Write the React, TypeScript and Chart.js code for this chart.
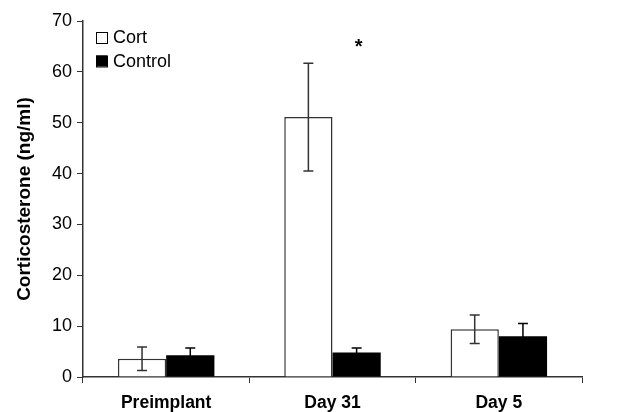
import React, { useEffect, useRef } from "react";
import { Chart, registerables } from "chart.js";

Chart.register(...registerables);

const categories = ["Preimplant", "Day 31", "Day 5"];
const cortValues = [3.6, 51.1, 9.4];
const cortErrors = [2.3, 10.6, 2.8];
const controlValues = [4.3, 4.8, 8.0];
const controlErrors = [1.4, 0.9, 2.5];
const yTicks = [0, 10, 20, 30, 40, 50, 60, 70];
const seriesNames = ["Cort", "Control"];

const FONT = "'Liberation Sans', Arial, Helvetica, sans-serif";

const errorBarPlugin = {
  id: "errorBars",
  afterDatasetsDraw(chart: any) {
    const ctx = chart.ctx;
    const y = chart.scales.y;
    const errs = [cortErrors, controlErrors];
    const colors = ["#333", "#000"];
    ctx.save();
    ctx.lineWidth = 1.5;
    chart.data.datasets.forEach((ds: any, di: number) => {
      const meta = chart.getDatasetMeta(di);
      ctx.strokeStyle = colors[di];
      meta.data.forEach((bar: any, i: number) => {
        const v = ds.data[i];
        const e = errs[di][i];
        const x = bar.x;
        const yt = y.getPixelForValue(v + e);
        const yb = y.getPixelForValue(v - e);
        ctx.beginPath();
        ctx.moveTo(x, yt);
        ctx.lineTo(x, yb);
        ctx.moveTo(x - 5, yt);
        ctx.lineTo(x + 5, yt);
        ctx.moveTo(x - 5, yb);
        ctx.lineTo(x + 5, yb);
        ctx.stroke();
      });
    });
    // significance star above Day 31
    const meta1 = chart.getDatasetMeta(1);
    const sx = meta1.data[1].x + 2;
    const sy = y.getPixelForValue(64.7);
    ctx.fillStyle = "#000";
    ctx.font = `bold 20px ${FONT}`;
    ctx.textAlign = "center";
    ctx.textBaseline = "middle";
    ctx.fillText("*", sx, sy);
    // legend
    const lx = chart.chartArea.left + 13;
    const fills = ["#ffffff", "#000000"];
    ctx.font = `18px ${FONT}`;
    ctx.textAlign = "left";
    seriesNames.forEach((name, i) => {
      const cy = 37.5 + i * 23.5;
      ctx.fillStyle = fills[i];
      ctx.fillRect(lx, cy - 5.5, 11, 11);
      ctx.strokeStyle = "#000";
      ctx.lineWidth = 1;
      ctx.strokeRect(lx + 0.5, cy - 5.5 + 0.5, 11, 11);
      ctx.fillStyle = "#000";
      ctx.fillText(name, lx + 17, cy + 1);
    });
    ctx.restore();
  },
};

export default function App() {
  const ref = useRef<HTMLCanvasElement>(null);
  useEffect(() => {
    document.body.style.margin = "0";
    const chart = new Chart(ref.current!, {
      type: "bar",
      data: {
        labels: categories,
        datasets: [
          {
            label: seriesNames[0],
            data: cortValues,
            backgroundColor: "#ffffff",
            borderColor: "#333",
            borderWidth: 1.5,
            borderSkipped: "bottom",
          },
          {
            label: seriesNames[1],
            data: controlValues,
            backgroundColor: "#000000",
            borderColor: "#000",
            borderWidth: 0,
          },
        ],
      },
      options: {
        animation: false,
        responsive: false,
        layout: { padding: { top: 21, right: 36, bottom: 0, left: 13 } },
        datasets: { bar: { categoryPercentage: 0.58, barPercentage: 1.0 } },
        plugins: { legend: { display: false }, tooltip: { enabled: false } },
        scales: {
          x: {
            grid: {
              offset: true,
              drawOnChartArea: false,
              drawTicks: true,
              tickLength: 6,
              color: "#333",
            },
            border: { color: "#333", width: 1.5 },
            ticks: {
              color: "#000",
              font: { family: FONT, size: 17.5, weight: "bold" },
              padding: 10,
            },
            afterFit: (s: any) => {
              s.height = 35;
            },
          },
          y: {
            min: 0,
            max: 70,
            afterBuildTicks: (s: any) => {
              s.ticks = yTicks.map((v) => ({ value: v }));
            },
            grid: {
              drawOnChartArea: false,
              drawTicks: true,
              tickLength: 6,
              color: "#333",
            },
            border: { color: "#333", width: 1.5 },
            ticks: {
              color: "#000",
              font: { family: FONT, size: 18 },
              padding: 5,
            },
            title: {
              display: true,
              text: "Corticosterone (ng/ml)",
              color: "#000",
              font: { family: FONT, size: 19, weight: "bold" },
              padding: { top: 0, bottom: 8 },
            },
            afterFit: (s: any) => {
              s.width = 70;
            },
          },
        },
      },
      plugins: [errorBarPlugin],
    });
    return () => chart.destroy();
  }, []);
  return (
    <div style={{ width: 618, height: 412 }}>
      <canvas ref={ref} width={618} height={412} style={{ display: "block" }} />
    </div>
  );
}
